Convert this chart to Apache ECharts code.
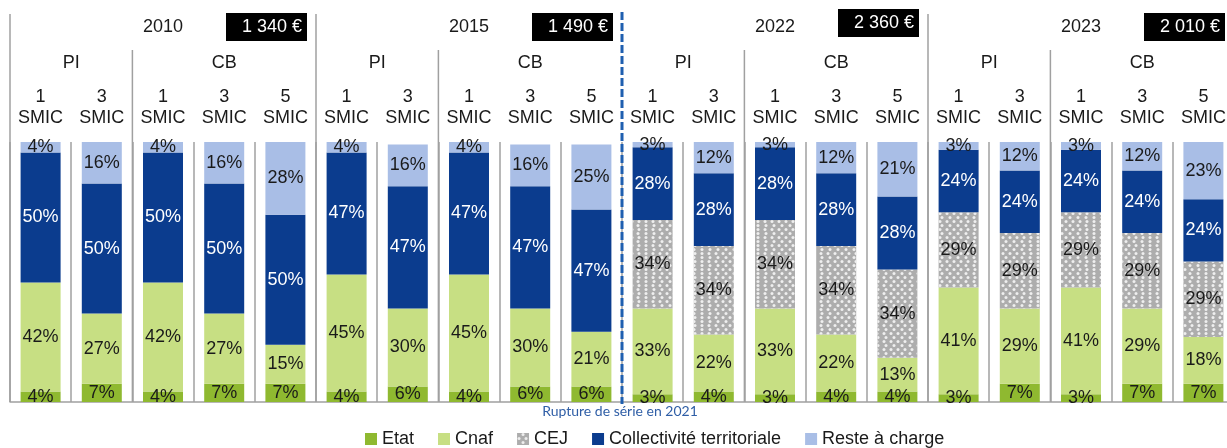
<!DOCTYPE html>
<html>
<head>
<meta charset="utf-8">
<script src="https://cdn.jsdelivr.net/npm/echarts@6/dist/echarts.min.js"></script>
<style>
  html, body { margin: 0; padding: 0; background: #fff; }
  #chart { width: 1227px; height: 448px; }
</style>
</head>
<body>
<div id="chart"></div>
<script>
// années, coût et sous-catégories
const years = ['2010', '2015', '2022', '2023'];
const costs = ['1 340 €', '1 490 €', '2 360 €', '2 010 €'];
const modes = ['PI', 'CB'];
const smicByMode = [['1', '3'], ['1', '3', '5']];

// parts en % (ordre : PI 1, PI 3, CB 1, CB 3, CB 5 pour chaque année)
const etat         = [4, 7, 4, 7, 7,    4, 6, 4, 6, 6,    3, 4, 3, 4, 4,    3, 7, 3, 7, 7];
const cnaf         = [42, 27, 42, 27, 15, 45, 30, 45, 30, 21, 33, 22, 33, 22, 13, 41, 29, 41, 29, 18];
const cej          = [0, 0, 0, 0, 0,    0, 0, 0, 0, 0,    34, 34, 34, 34, 34, 29, 29, 29, 29, 29];
const collectivite = [50, 50, 50, 50, 50, 47, 47, 47, 47, 47, 28, 28, 28, 28, 28, 24, 24, 24, 24, 24];
const reste        = [4, 16, 4, 16, 28, 4, 16, 4, 16, 25, 3, 12, 3, 12, 21, 3, 12, 3, 12, 23];

const seriesNames = ['Etat', 'Cnaf', 'CEJ', 'Collectivité territoriale', 'Reste à charge'];

// construire les catégories
const categories = [];
const smicLabels = [];
years.forEach(y => {
  modes.forEach((m, mi) => {
    smicByMode[mi].forEach(s => {
      categories.push(y + ' ' + m + ' ' + s + ' SMIC');
      smicLabels.push(s);
    });
  });
});

const FONT = '"Liberation Sans", Arial, sans-serif';
const DARK = '#1a1a1a';
const GRAYLINE = '#a0a0a0';

const chart = echarts.init(document.getElementById('chart'));

function makeSeries(name, data, color, labelColor, extra) {
  return Object.assign({
    name: name,
    type: 'bar',
    stack: 'total',
    barWidth: 40,
    data: data,
    itemStyle: { color: color },
    label: {
      show: true,
      position: 'inside',
      fontSize: 18,
      fontFamily: FONT,
      color: labelColor,
      formatter: p => (p.value ? p.value + '%' : '')
    },
    emphasis: { disabled: true }
  }, extra || {});
}

const option = {
  animation: false,
  grid: { left: 10, top: 142, width: 1224, height: 260, outerBoundsMode: 'none', containLabel: false },
  legend: {
    data: seriesNames,
    left: 360,
    top: 425,
    icon: 'rect',
    itemWidth: 12,
    itemHeight: 12,
    itemGap: 24,
    textStyle: { fontSize: 18, fontFamily: FONT, color: DARK },
    selectedMode: false
  },
  xAxis: [{
    type: 'category',
    data: categories,
    position: 'bottom',
    axisLine: { show: true, lineStyle: { color: GRAYLINE, width: 1.5 } },
    axisTick: { show: false },
    axisLabel: { show: false },
    splitLine: { show: true, interval: 0, lineStyle: { color: GRAYLINE, width: 1.5 } }
  }, {
    type: 'category',
    data: categories,
    position: 'top',
    axisLine: { show: false },
    axisTick: { show: false },
    splitLine: { show: false },
    axisLabel: {
      interval: 0,
      margin: 13,
      fontSize: 18,
      lineHeight: 21,
      fontFamily: FONT,
      color: DARK,
      formatter: (v, i) => smicLabels[i] + '\nSMIC'
    }
  }],
  yAxis: { type: 'value', min: 0, max: 100, show: false },
  series: [
    makeSeries('Etat', etat, '#8fb930', DARK),
    makeSeries('Cnaf', cnaf, '#c7df83', DARK),
    makeSeries('CEJ', cej, '#aaaaaa', DARK, {
      itemStyle: {
        color: '#adadad',
        decal: {
          symbol: 'circle',
          symbolSize: 1,
          color: '#efefef',
          dashArrayX: [[4, 3], [0, 3.5, 4, 0]],
          dashArrayY: [3, 1],
          rotation: 0
        }
      }
    }),
    makeSeries('Collectivité territoriale', collectivite, '#0b3c8e', '#ffffff'),
    makeSeries('Reste à charge', reste, '#a9bee6', DARK)
  ]
};

chart.setOption(option);

// en-têtes (années, PI/CB, séparateurs) positionnés depuis l'axe
const px = i => chart.convertToPixel({ xAxisIndex: 0 }, i);
const step = px(1) - px(0);
const edge = i => px(i) - step / 2;
const bottomY = 402;
const graphics = [];

years.forEach((y, k) => {
  const s = k * 5;
  const gLeft = edge(s);
  const gRight = edge(s + 5);

  // séparateur d'année (rupture de série en pointillé bleu)
  if (k === 2) {
    graphics.push({
      type: 'line', z: 10,
      shape: { x1: gLeft, y1: 12, x2: gLeft, y2: bottomY + 2 },
      style: { stroke: '#1f5fb0', lineWidth: 3, lineDash: [8, 3] }
    });
  } else {
    graphics.push({
      type: 'line',
      shape: { x1: gLeft, y1: 14, x2: gLeft, y2: bottomY },
      style: { stroke: GRAYLINE, lineWidth: 1.5 }
    });
  }
  // séparateur PI / CB
  const mid = edge(s + 2);
  graphics.push({
    type: 'line',
    shape: { x1: mid, y1: 50, x2: mid, y2: bottomY },
    style: { stroke: GRAYLINE, lineWidth: 1.5 }
  });

  // année
  graphics.push({
    type: 'text',
    x: px(s + 2), y: 27,
    style: { text: y, fontSize: 18, fontFamily: FONT, fill: DARK, align: 'center', verticalAlign: 'middle' }
  });

  // cartouche du coût
  const boxTop = k === 2 ? 9 : 13;
  graphics.push({
    type: 'rect',
    shape: { x: gRight - 90, y: boxTop, width: 81, height: 28 },
    style: { fill: '#000' }
  });
  graphics.push({
    type: 'text',
    x: gRight - 14, y: boxTop + 14,
    style: { text: costs[k], fontSize: 18, fontFamily: FONT, fill: '#fff', align: 'right', verticalAlign: 'middle' }
  });

  // PI / CB
  graphics.push({
    type: 'text',
    x: (px(s) + px(s + 1)) / 2, y: 63,
    style: { text: modes[0], fontSize: 18, fontFamily: FONT, fill: DARK, align: 'center', verticalAlign: 'middle' }
  });
  graphics.push({
    type: 'text',
    x: px(s + 3), y: 63,
    style: { text: modes[1], fontSize: 18, fontFamily: FONT, fill: DARK, align: 'center', verticalAlign: 'middle' }
  });
});

graphics.push({
  type: 'text',
  x: edge(10) - 2, y: 411,
  style: { text: 'Rupture de série en 2021', fontSize: 14, fontFamily: 'Lato, "Liberation Sans", sans-serif', fill: '#2f5ea6', align: 'center', verticalAlign: 'middle' }
});

chart.setOption({ graphic: graphics });
</script>
</body>
</html>
